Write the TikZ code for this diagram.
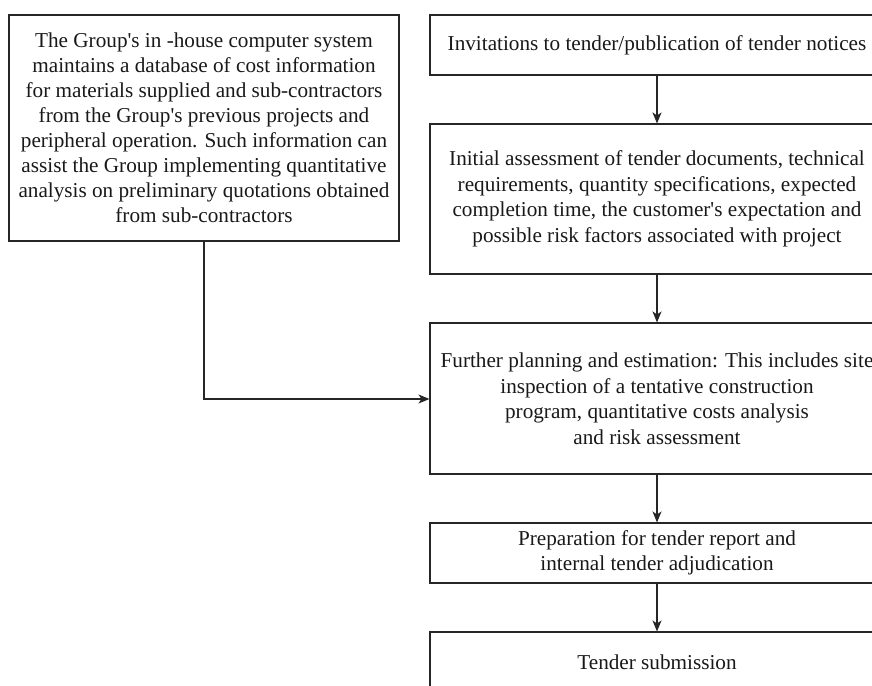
\documentclass[tikz,border=0pt]{standalone}
\usepackage{fontspec}
\setmainfont{Liberation Serif}
\usetikzlibrary{arrows.meta}
\newcommand{\sq}{\textquotesingle}
\begin{document}
\begin{tikzpicture}[x=1pt,y=-1pt,
  box/.style={draw=black!85,line width=1.1pt,rectangle,align=center,inner sep=0pt,text=black!90},
  lbox/.style={box,minimum width=390pt,minimum height=226pt,font=\fontsize{21.2}{25}\selectfont},
  rbox/.style={box,minimum width=454pt,font=\fontsize{21.2}{25.5}\selectfont},
  conn/.style={draw=black!85,line width=1.1pt,-{Stealth[length=11pt,width=9pt,inset=3pt]}}]
\useasboundingbox (0,0) rectangle (872,685);
\clip (0,0) rectangle (872,685);
\fill[white] (0,0) rectangle (872,685);
\node[lbox] (left) at (204,128) {\raisebox{4pt}{\parbox{390pt}{\centering The Group\sq s in -house computer system\\maintains a database of cost information\\for materials supplied and sub-contractors\\from the Group\sq s previous projects and\\peripheral operation. Such information can\\assist the Group implementing quantitative\\analysis on preliminary quotations obtained\\from sub-contractors}}};
\node[rbox,minimum height=60pt] (inv) at (657,45) {Invitations to tender/publication of tender notices};
\node[rbox,minimum height=150pt] (init) at (657,199) {Initial assessment of tender documents, technical\\requirements, quantity specifications, expected\\completion time, the customer\sq s expectation and\\possible risk factors associated with project};
\node[rbox,minimum height=151pt] (plan) at (657,398.5) {Further planning and estimation: This includes site\\inspection of a tentative construction\\program, quantitative costs analysis\\and risk assessment};
\node[rbox,minimum height=60pt] (prep) at (657,553) {Preparation for tender report and\\internal tender adjudication};
\node[rbox,minimum height=60pt] (sub) at (657,662) {Tender submission};
\coordinate (corner) at (left.south |- 0,399);
\draw[conn] (inv) -- (init);
\draw[conn] (init) -- (plan);
\draw[conn] (plan) -- (prep);
\draw[conn] (prep) -- (sub);
\draw[conn] (left.south) -- (corner) -- (plan.west |- corner);
\end{tikzpicture}
\end{document}
